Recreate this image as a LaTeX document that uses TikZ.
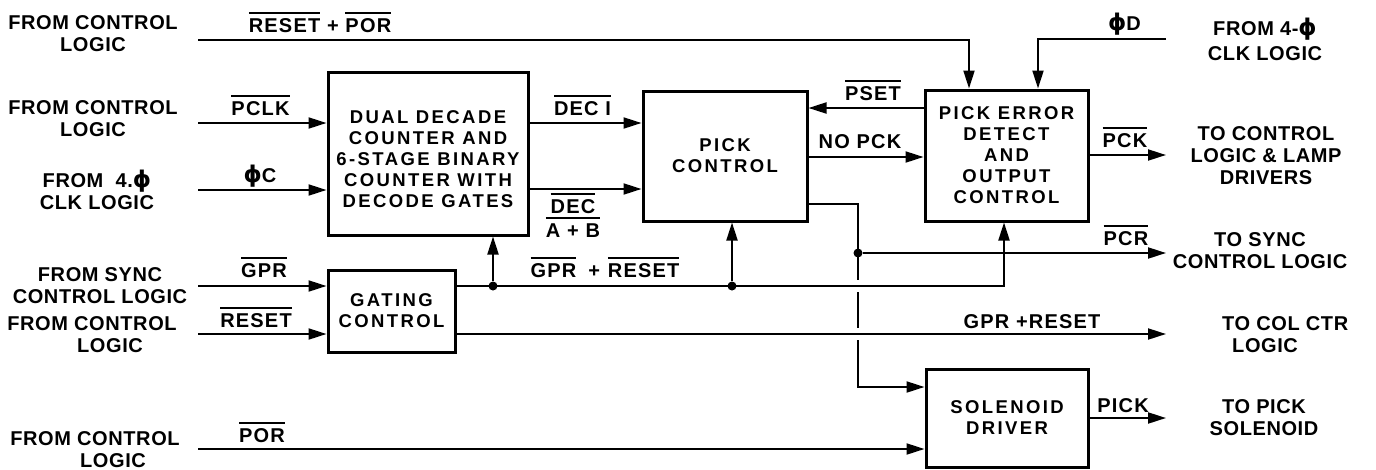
\documentclass[tikz,border=0pt]{standalone}
\usepackage{fontspec}
\setmainfont{Liberation Sans}
\newfontfamily\outerfont{Liberation Sans}[LetterSpace=3]
\newfontfamily\boxfont{Liberation Sans}[LetterSpace=13]
\newfontfamily\sigfont{Liberation Sans}[LetterSpace=6]
\newfontfamily\phifont{DejaVu Sans}
\newcommand\PHI{{\phifont\bfseries\fontsize{23}{24}\selectfont ϕ}}
\newcommand\myov[1]{\leavevmode\setbox0=\hbox{#1}\rlap{\raisebox{\dimexpr\ht0+4.5pt\relax}{\rule{\wd0}{1.8pt}}}\box0\relax}
\usetikzlibrary{arrows.meta}
\begin{document}
\begin{tikzpicture}[x=1pt,y=-1pt,
  box/.style={draw, line width=3pt, inner sep=0pt, align=center, font={\boxfont\bfseries\fontsize{18.5}{21}\selectfont}},
  conn/.style={line width=2pt},
  arr/.style={line width=2pt, -{Triangle[length=18pt,width=11pt]}},
  jdot/.style={circle, fill, inner sep=0pt, minimum size=9pt},
  outer/.style={inner sep=0pt, align=center, font={\outerfont\bfseries\fontsize{20}{22}\selectfont}},
  sig/.style={inner sep=0pt, anchor=base, font={\sigfont\bfseries\fontsize{20}{22}\selectfont}}]
\fill[white] (0,0) rectangle (1376,469);
\useasboundingbox (0,0) rectangle (1376,469);

% blocks
\node[box, minimum width=200pt, minimum height=163pt] (dual) at (428,153.5) {\mbox{}\\[4pt]DUAL DECADE\\COUNTER AND\\6-STAGE BINARY\\COUNTER WITH\\DECODE GATES};
\node[box, minimum width=164pt, minimum height=130pt] (pick) at (725,156) {PICK\\CONTROL};
\node[box, minimum width=163pt, minimum height=131pt] (pe) at (1006.5,155.5) {PICK ERROR\\DETECT\\AND\\OUTPUT\\CONTROL};
\node[box, minimum width=127pt, minimum height=82pt] (gate) at (391.5,311) {GATING\\CONTROL};
\node[box, minimum width=162pt, minimum height=98pt] (sol) at (1007,418) {SOLENOID\\DRIVER};

% free ends and junctions
\coordinate (inRP) at (198,40);
\coordinate (inPCLK) at (198,123);
\coordinate (inPhiC) at (198,190);
\coordinate (inGPR) at (198,286);
\coordinate (inRST) at (198,334);
\coordinate (inPOR) at (198,449);
\coordinate (inPhiD) at (1166,39);
\coordinate (outPCK) at (1166,155);
\coordinate (outPCR) at (1166,253);
\coordinate (outGR) at (1166,334);
\coordinate (outPICK) at (1166,418);
\coordinate (peRP) at (969,0 |- pe.north);
\coordinate (pePhiD) at (1038,0 |- pe.north);
\coordinate (peUp) at (1004,0 |- pe.south);
\coordinate (v1) at (858,280);
\coordinate (v2) at (858,292);
\coordinate (v3) at (858,328);
\coordinate (v4) at (858,340);
\node[jdot] (j1) at (858,253) {};
\node[jdot] (j2) at (493,286) {};
\node[jdot] (j3) at (732,286) {};

% connectors
\draw[arr] (inRP) -| (peRP);
\draw[arr] (inPhiD) -| (pePhiD);
\draw[arr] (inPCLK) -- (inPCLK -| dual.west);
\draw[arr] (inPhiC) -- (inPhiC -| dual.west);
\draw[arr] (dual.east |- 0,123) -- (pick.west |- 0,123);
\draw[arr] (dual.east |- 0,189) -- (pick.west |- 0,189);
\draw[arr] (pe.west |- 0,108) -- (pick.east |- 0,108);
\draw[arr] (pick.east |- 0,157) -- (pe.west |- 0,157);
\draw[arr] (pe.east |- outPCK) -- (outPCK);
\draw[conn] (pick.east |- 0,204) -| (j1.center);
\draw[conn] (j1.center) -- (v1);
\draw[conn] (v2) -- (v3);
\draw[arr] (v4) |- (sol.west |- 0,387);
\draw[arr] (j1) -- (outPCR);
\draw[arr] (gate.east |- inGPR) -| (peUp);
\draw[arr] (j2) -- (j2 |- dual.south);
\draw[arr] (j3) -- (j3 |- pick.south);
\draw[arr] (inGPR) -- (inGPR -| gate.west);
\draw[arr] (inRST) -- (inRST -| gate.west);
\draw[arr] (gate.east |- inRST) -- (outGR);
\draw[arr] (inPOR) -- (inPOR -| sol.west);
\draw[arr] (sol.east |- outPICK) -- (outPICK);

% outer labels
\node[outer] (l1) at (93,34) {FROM CONTROL\\LOGIC};
\node[outer] (l2) at (93,118.5) {FROM CONTROL\\LOGIC};
\node[outer] (l3) at (97,189.5) {FROM\ \ 4.\PHI\\CLK LOGIC};
\node[outer] (l4) at (100,285.5) {FROM SYNC\\CONTROL LOGIC};
\node[outer] (l5) at (92,335) {FROM CONTROL\\\hspace*{36pt}LOGIC};
\node[outer] (l6) at (95,449.5) {FROM CONTROL\\\hspace*{36pt}LOGIC};
\node[outer] (r1) at (1265,39.5) {FROM 4-\PHI\\[3pt]CLK LOGIC};
\node[outer] (r2) at (1266,155.5) {TO\ CONTROL\\LOGIC \& LAMP\\DRIVERS};
\node[outer] (r3) at (1260,250.5) {TO\ SYNC\\CONTROL LOGIC};
\node[outer, anchor=west, align=left] (r4) at (1222,335) {TO COL CTR\\\hspace*{10pt}LOGIC};
\node[outer] (r5) at (1264,417.5) {TO PICK\\SOLENOID};

% signal labels
\node[sig] (sRP) at (320,32) {\myov{RESET} + \myov{POR}};
\node[sig] (sPCLK) at (260.5,115) {\myov{PCLK}};
\node[sig] (sPhiC) at (260,182) {\PHI C};
\node[sig] (sDEC1) at (582.5,115) {\myov{DEC I}};
\node[sig, anchor=center, align=center] (sDECAB) at (573,215) {\myov{DEC}\\[2pt]\myov{A + B}};
\node[sig] (sPSET) at (873,100) {\myov{PSET}};
\node[sig] (sNOPCK) at (860,148) {NO PCK};
\node[sig] (sPCK) at (1125,147) {\myov{PCK}};
\node[sig] (sPCR) at (1126,245) {\myov{PCR}};
\node[sig] (sPhiD) at (1124.5,30) {\PHI D};
\node[sig] (sGPR) at (264,277) {\myov{GPR}};
\node[sig] (sRST) at (256,327) {\myov{RESET}};
\node[sig] (sPOR) at (262,442) {\myov{POR}};
\node[sig] (sGR1) at (605,277) {\myov{GPR}\hspace{12pt}+\hspace{8pt}\myov{RESET}};
\node[sig] (sGR2) at (1032,328) {GPR +RESET};
\node[sig] (sPICK) at (1123,412) {PICK};
\end{tikzpicture}
\end{document}
